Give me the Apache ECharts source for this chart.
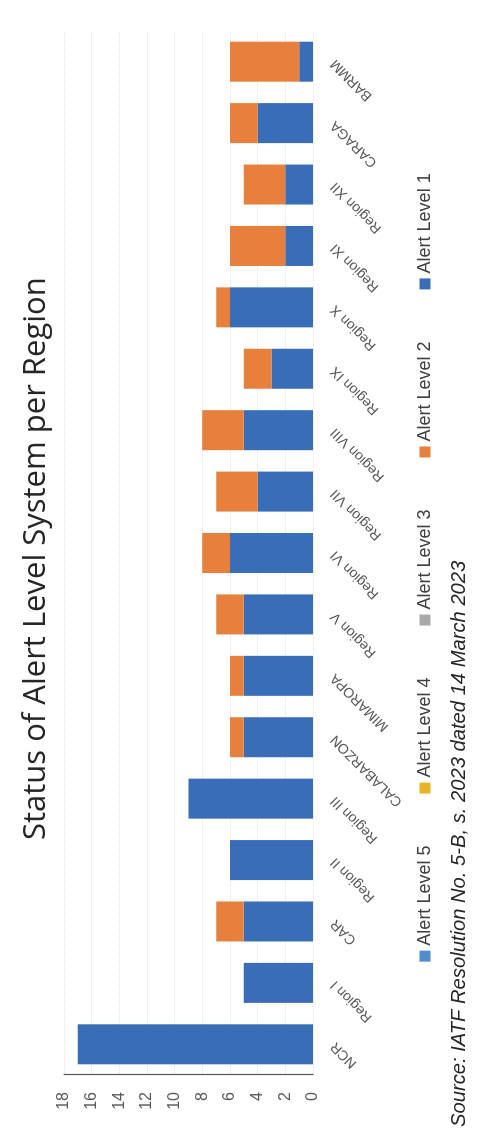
<!DOCTYPE html>
<html>
<head>
<meta charset="utf-8">
<script src="https://cdn.jsdelivr.net/npm/echarts@6/dist/echarts.min.js"></script>
<style>
  html, body { margin: 0; padding: 0; background: #ffffff; overflow: hidden; }
  #wrap { position: absolute; left: 0; top: 0; width: 477px; height: 1135px; overflow: hidden; }
  #chart { position: absolute; left: 0; top: 0; width: 1135px; height: 477px;
           transform-origin: 0 0; transform: translate(0, 1135px) rotate(-90deg); }
</style>
</head>
<body>
<div id="wrap"><div id="chart"></div></div>
<script>
const titleText = 'Status of Alert Level System per Region';
const sourceText = 'Source: IATF Resolution No. 5-B, s. 2023 dated 14 March 2023';
const categories = ['NCR', 'Region I', 'CAR', 'Region II', 'Region III', 'CALABARZON', 'MIMAROPA',
  'Region V', 'Region VI', 'Region VII', 'Region VIII', 'Region IX', 'Region X', 'Region XI',
  'Region XII', 'CARAGA', 'BARMM'];
const alertLevel1 = [17, 5, 5, 6, 9, 5, 5, 5, 6, 4, 5, 3, 6, 2, 2, 4, 1];
const alertLevel2 = [0, 0, 2, 0, 0, 1, 1, 2, 2, 3, 3, 2, 1, 4, 3, 2, 5];
const alertLevel3 = [0, 0, 0, 0, 0, 0, 0, 0, 0, 0, 0, 0, 0, 0, 0, 0, 0];
const alertLevel4 = [0, 0, 0, 0, 0, 0, 0, 0, 0, 0, 0, 0, 0, 0, 0, 0, 0];
const alertLevel5 = [0, 0, 0, 0, 0, 0, 0, 0, 0, 0, 0, 0, 0, 0, 0, 0, 0];
const legendNames = ['Alert Level 5', 'Alert Level 4', 'Alert Level 3', 'Alert Level 2', 'Alert Level 1'];
const valueTicks = { min: 0, max: 18, interval: 2 };

const colors = {
  'Alert Level 1': '#3A6DB7',
  'Alert Level 2': '#E6803C',
  'Alert Level 3': '#A8A8A8',
  'Alert Level 4': '#E8B424',
  'Alert Level 5': '#4F8DCC'
};

const chart = echarts.init(document.getElementById('chart'), null, { renderer: 'canvas' });

function bar(name, data) {
  return {
    name: name, type: 'bar', stack: 'total', data: data, barWidth: 40,
    itemStyle: { color: colors[name] }
  };
}

chart.setOption({
  animation: false,
  backgroundColor: '#ffffff',
  title: {
    text: titleText, left: 290, top: 16,
    textStyle: { fontFamily: 'Open Sans', fontWeight: 'normal', fontSize: 31, color: '#262626' }
  },
  legend: {
    data: legendNames, bottom: 38, left: 'center', itemGap: 52,
    itemWidth: 11, itemHeight: 11, icon: 'rect',
    textStyle: { fontFamily: 'Liberation Sans', fontSize: 18, color: '#404040' }
  },
  grid: { left: 60, right: 31, top: 64, bottom: 164 },
  xAxis: {
    type: 'category', data: categories,
    axisLine: { show: false }, axisTick: { show: false },
    axisLabel: { rotate: 45, margin: 20, fontFamily: 'Liberation Sans', fontSize: 14, color: '#595959', interval: 0 }
  },
  yAxis: {
    type: 'value', min: valueTicks.min, max: valueTicks.max, interval: valueTicks.interval,
    axisLine: { show: true, lineStyle: { color: '#555555', width: 1.2 } },
    axisTick: { show: false },
    axisLabel: { margin: 17, fontFamily: 'Liberation Sans', fontSize: 16, color: '#595959' },
    splitLine: { show: true, lineStyle: { color: '#e2e2e2', type: 'dotted' } }
  },
  graphic: [{
    type: 'text', left: 8, top: 449,
    style: { text: sourceText, fontFamily: 'Liberation Sans', fontStyle: 'italic', fontSize: 20.2, fill: '#262626' }
  }],
  series: [
    bar('Alert Level 1', alertLevel1),
    bar('Alert Level 2', alertLevel2),
    bar('Alert Level 3', alertLevel3),
    bar('Alert Level 4', alertLevel4),
    bar('Alert Level 5', alertLevel5)
  ]
});
</script>
</body>
</html>
